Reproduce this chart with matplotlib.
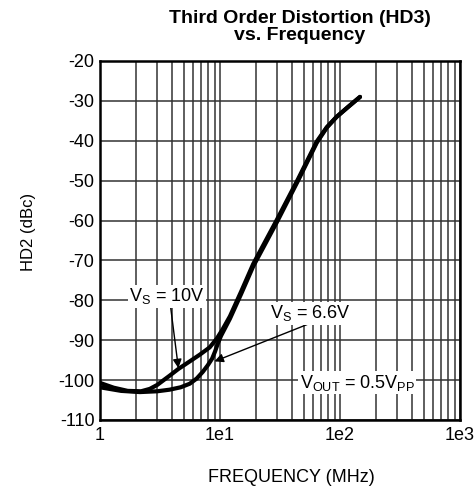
import matplotlib
matplotlib.use("Agg")
import matplotlib.pyplot as plt
from matplotlib.ticker import FixedLocator, LogLocator, NullFormatter

plt.rcParams['font.family'] = ['Liberation Sans', 'DejaVu Sans']
plt.rcParams['mathtext.fontset'] = 'custom'
plt.rcParams['mathtext.rm'] = 'Liberation Sans'
plt.rcParams['mathtext.it'] = 'Liberation Sans'

# Data (frequency in MHz, distortion in dBc)
freq_10v = [1.0, 1.3, 1.7, 2.2, 2.6, 3.0, 3.8, 4.5, 5.6, 6.8, 8.2, 9.4, 10.5, 12.1, 15.0, 18.9,
            29.9, 44.7, 64.0, 77.6, 93.7, 117.0, 146.8]
hd_10v = [-100.7, -101.9, -102.7, -102.8, -102.2, -101.2, -98.9, -97.2, -95.3, -93.6, -91.8, -89.6,
          -87.3, -84.0, -77.8, -70.9, -59.7, -49.6, -40.2, -36.6, -34.0, -31.5, -29.0]

freq_66v = [1.0, 1.5, 2.15, 3.0, 3.8, 4.7, 5.6, 6.4, 7.2, 7.9, 8.6, 9.1, 9.6, 10.2, 12.1, 15.0, 18.9,
            29.9, 44.7, 64.0, 77.6, 93.7, 117.0, 146.8]
hd_66v = [-101.8, -102.7, -103.0, -102.8, -102.4, -101.8, -100.9, -99.6, -97.9, -96.3, -94.6, -92.8,
          -90.8, -88.9, -84.6, -78.4, -71.5, -60.3, -50.0, -40.5, -36.7, -34.0, -31.5, -29.0]

y_ticks = [-110, -100, -90, -80, -70, -60, -50, -40, -30, -20]
x_ticks = [1, 10, 100, 1000]
x_ticklabels = ["1", "1e1", "1e2", "1e3"]

fig = plt.figure(figsize=(4.74, 4.92), dpi=100)
ax = fig.add_axes([100/474, 1-420/492, 360/474, 359/492])

ax.set_xscale('log')
ax.set_xlim(1, 1000)
ax.set_ylim(-110, -20)

ax.xaxis.set_major_locator(FixedLocator(x_ticks))
ax.set_xticklabels(x_ticklabels)
ax.xaxis.set_minor_locator(LogLocator(base=10, subs=range(2, 10)))
ax.xaxis.set_minor_formatter(NullFormatter())
ax.set_yticks(y_ticks)
ax.set_yticklabels([str(v) for v in y_ticks])

ax.grid(True, which='both', axis='x', color='#333333', lw=1.1)
ax.grid(True, which='major', axis='y', color='#333333', lw=1.1)
ax.tick_params(which='both', length=0, labelsize=13, colors='black')
ax.tick_params(axis='y', pad=4)
ax.tick_params(axis='x', pad=5)

for s in ax.spines.values():
    s.set_linewidth(1.8)
    s.set_color('black')

ax.plot(freq_10v, hd_10v, color='black', lw=3.0, solid_capstyle='round', zorder=4)
ax.plot(freq_66v, hd_66v, color='black', lw=3.0, solid_capstyle='round', zorder=4)

bbox = dict(facecolor='white', edgecolor='none', pad=1.0)
arrow = dict(arrowstyle='-|>', color='black', lw=1.0, mutation_scale=13, shrinkA=0, shrinkB=0)

ax.annotate(r'$\mathregular{V_S}$ = 10V', xy=(4.5, -97.0), xytext=(3.6, -79.0),
            ha='center', va='center', fontsize=13, bbox=bbox, zorder=6,
            arrowprops=dict(arrow, relpos=(0.55, 0.0)))
ax.annotate(r'$\mathregular{V_S}$ = 6.6V', xy=(9.0, -95.3), xytext=(57, -83.2),
            ha='center', va='center', fontsize=13, bbox=bbox, zorder=6,
            arrowprops=dict(arrow, relpos=(0.5, 0.0)))
ax.text(139, -100.7, r'$\mathregular{V_{OUT}}$ = 0.5$\mathregular{V_{PP}}$', ha='center', va='center',
        fontsize=13, bbox=bbox, zorder=6)

fig.text(300/474, 1-27/492, 'Third Order Distortion (HD3)\nvs. Frequency', ha='center', va='center',
         fontsize=14, fontweight='bold', linespacing=0.95)
fig.text(291/474, 1-478/492, 'FREQUENCY (MHz)', ha='center', va='center', fontsize=13)
fig.text(28/474, 1-232/492, 'HD2 (dBc)', ha='center', va='center', fontsize=12, rotation=90)

fig.savefig('out.png', dpi=100)
